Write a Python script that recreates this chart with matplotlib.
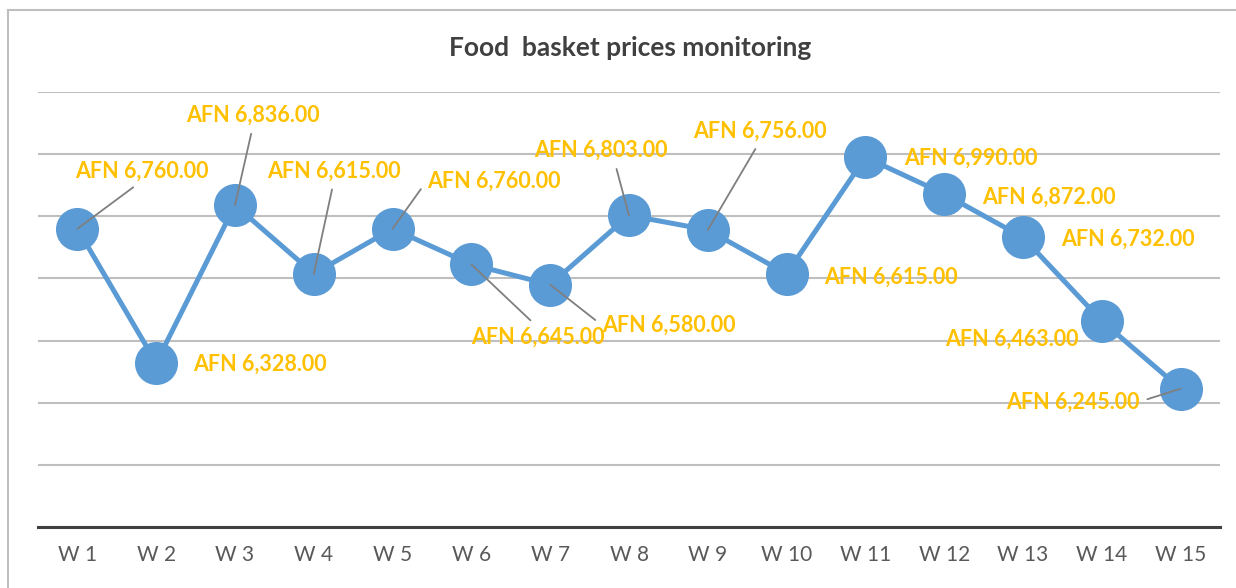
import matplotlib
matplotlib.use("Agg")
import matplotlib.pyplot as plt
from matplotlib.lines import Line2D

weeks = ["W 1", "W 2", "W 3", "W 4", "W 5", "W 6", "W 7", "W 8",
         "W 9", "W 10", "W 11", "W 12", "W 13", "W 14", "W 15"]
prices = [6760, 6328, 6836, 6615, 6760, 6645, 6580, 6803,
          6756, 6615, 6990, 6872, 6732, 6463, 6245]

# label placement (pixel offsets from the point) and where the leader leaves the text
label_offsets = [(64, 58), (104, -1), (18, 90), (20, 103), (101, 48), (66, -73),
                 (119, -41), (-28, 65), (52, 99), (104, -3), (105, -1),
                 (105, -3), (105, -2), (-90, -18), (-108, -13)]
leaders = [(0.5, 0), None, (0.5, 0), (0.5, 0), (0, 0.5), (0.5, 1),
           (0, 0.5), (0.6, 0), (0.5, 0), None, None, None, None, None, (1, 0.5)]

plt.rcParams['font.family'] = ['Lato', 'DejaVu Sans']

fig = plt.figure(figsize=(12.36, 5.88), dpi=100)
ax = fig.add_axes([38 / 1236, 1 - 527 / 588, 1182 / 1236, 435 / 588])

x = list(range(len(weeks)))
ax.plot(x, prices, color='#5B9BD5', lw=3.6, marker='o', markersize=31,
        markeredgewidth=0, zorder=3)

for i, v in enumerate(prices):
    dx, dy = label_offsets[i]
    arrow = None
    if leaders[i] is not None:
        arrow = dict(arrowstyle='-', color='#7F7F7F', lw=1.3,
                     shrinkA=4, shrinkB=0, relpos=leaders[i])
    ax.annotate(f"AFN {v:,.2f}", xy=(i, v), xytext=(dx, dy),
                textcoords='offset pixels', ha='center', va='center',
                fontsize=15.5, fontweight='bold', color='#FFC000',
                arrowprops=arrow, zorder=4)

ax.set_xlim(-0.5, len(weeks) - 0.5)
ax.set_ylim(5800, 7200)
ax.set_yticks(range(5800, 7201, 200))
ax.yaxis.grid(True, color='#BFBFBF', lw=1.5)
ax.set_axisbelow(True)
ax.tick_params(axis='y', left=False, labelleft=False)
ax.set_xticks(x)
ax.set_xticklabels(weeks, fontsize=15, color='#595959')
ax.tick_params(axis='x', length=0, pad=13)
for s in ['top', 'right', 'left']:
    ax.spines[s].set_visible(False)
ax.spines['bottom'].set_color('#404040')
ax.spines['bottom'].set_linewidth(2.2)

fig.text(630 / 1236, 1 - 48 / 588, "Food  basket prices monitoring",
         ha='center', va='center', fontsize=19, fontweight='bold', color='#404040')

# chart frame
fig.add_artist(Line2D([8 / 1236, 8 / 1236], [0, 1 - 10 / 588], color='#BFBFBF', lw=1.5,
                      transform=fig.transFigure))
fig.add_artist(Line2D([8 / 1236, 1], [1 - 10 / 588, 1 - 10 / 588], color='#BFBFBF', lw=1.5,
                      transform=fig.transFigure))

fig.savefig("out.png", dpi=100)
